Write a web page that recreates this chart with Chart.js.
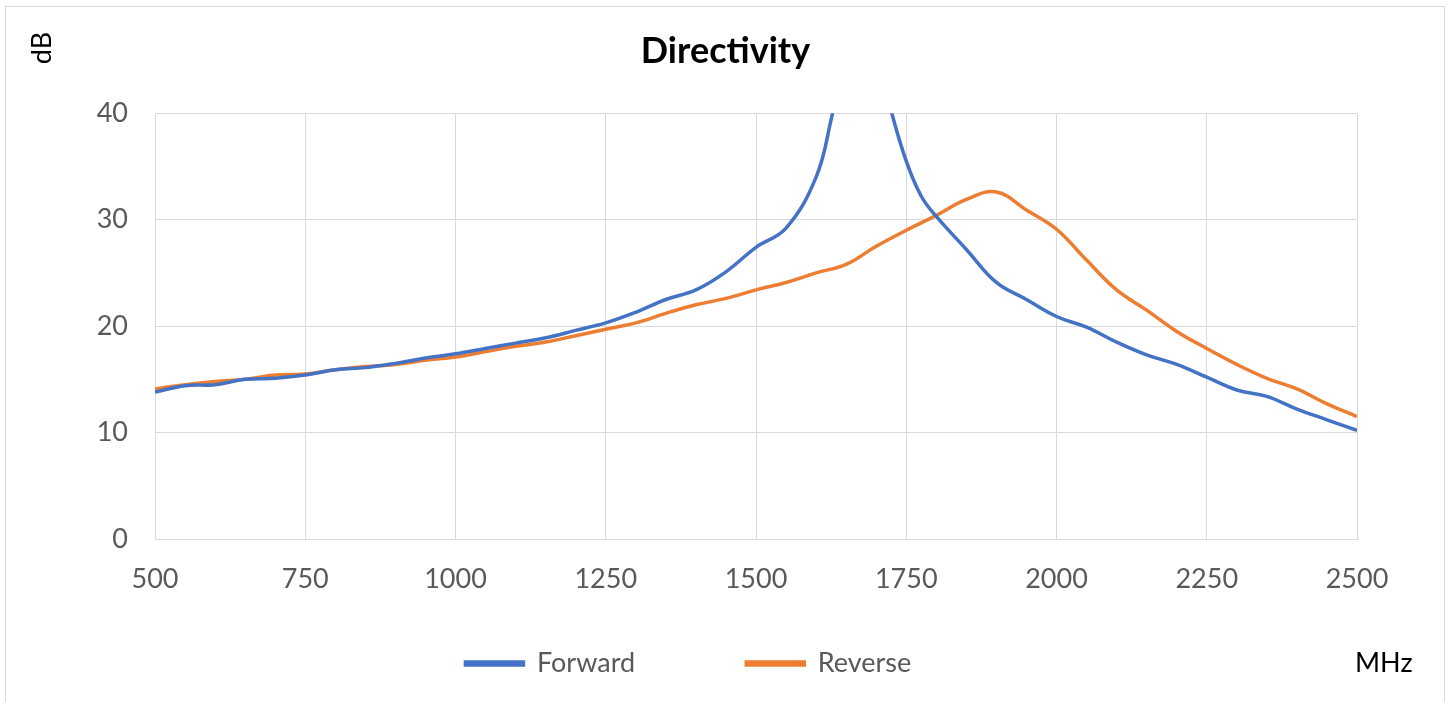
<!DOCTYPE html>
<html>
<head>
<meta charset="utf-8">
<script src="https://cdn.jsdelivr.net/npm/chart.js@4.4.1/dist/chart.umd.min.js"></script>
<style>
  html, body { margin: 0; padding: 0; background: #fff; }
  #wrap { width: 1451px; height: 702px; position: relative; }
</style>
</head>
<body>
<div id="wrap"><canvas id="directivity"></canvas></div>
<script>
// frequencies (MHz) and directivity (dB)
var forwardFreq = [500, 550, 600, 650, 700, 750, 800, 850, 900, 950, 1000, 1050, 1100, 1150, 1200, 1250, 1300, 1350, 1400, 1450, 1500, 1550, 1600, 1625, 1650, 1675, 1700, 1725, 1750, 1775, 1800, 1850, 1900, 1950, 2000, 2050, 2100, 2150, 2200, 2250, 2300, 2350, 2400, 2450, 2500];
var forwardDb = [13.8, 14.4, 14.5, 15.0, 15.1, 15.4, 15.9, 16.1, 16.5, 17.0, 17.4, 17.9, 18.4, 18.9, 19.6, 20.3, 21.3, 22.5, 23.4, 25.1, 27.4, 29.2, 34.0, 39.4, 46.0, 49.0, 46.0, 40.2, 35.5, 32.2, 30.3, 27.2, 24.1, 22.5, 20.9, 19.9, 18.5, 17.3, 16.4, 15.2, 14.0, 13.4, 12.2, 11.2, 10.2];

var reverseFreq = [500, 550, 600, 650, 700, 750, 800, 850, 900, 950, 1000, 1050, 1100, 1150, 1200, 1250, 1300, 1350, 1400, 1450, 1500, 1550, 1600, 1650, 1700, 1750, 1800, 1850, 1900, 1950, 2000, 2050, 2100, 2150, 2200, 2250, 2300, 2350, 2400, 2450, 2500];
var reverseDb = [14.1, 14.5, 14.8, 15.0, 15.4, 15.5, 15.9, 16.2, 16.4, 16.8, 17.1, 17.6, 18.1, 18.5, 19.1, 19.7, 20.3, 21.2, 22.0, 22.6, 23.4, 24.1, 25.0, 25.8, 27.5, 29.0, 30.4, 31.9, 32.6, 30.9, 29.1, 26.2, 23.4, 21.5, 19.5, 17.9, 16.4, 15.1, 14.1, 12.7, 11.5];

var xTicks = [500, 750, 1000, 1250, 1500, 1750, 2000, 2250, 2500];
var yTicks = [0, 10, 20, 30, 40];

function toPoints(xs, ys) {
  return xs.map(function(x, i) { return {x: x, y: ys[i]}; });
}

var FONT = "Lato, 'DejaVu Sans', sans-serif";

// frame, axis unit labels
var extrasPlugin = {
  id: 'extras',
  afterDraw: function(chart) {
    var ctx = chart.ctx;
    ctx.save();
    ctx.strokeStyle = '#d9d9d9';
    ctx.lineWidth = 1;
    ctx.strokeRect(5.5, 6.5, 1439, 700);

    ctx.fillStyle = '#000';
    ctx.font = '27px ' + FONT;
    ctx.textAlign = 'center';
    ctx.textBaseline = 'middle';
    ctx.translate(42, 48);
    ctx.rotate(-Math.PI / 2);
    ctx.fillText('dB', 0, 0);
    ctx.restore();

    ctx.save();
    ctx.fillStyle = '#000';
    ctx.font = '27px ' + FONT;
    ctx.textAlign = 'left';
    ctx.textBaseline = 'middle';
    ctx.fillText('MHz', 1355, 663);
    ctx.restore();
  }
};

var ctx = document.getElementById('directivity');
var chart = new Chart(ctx, {
  type: 'line',
  data: {
    datasets: [{
      label: 'Forward',
      data: toPoints(forwardFreq, forwardDb),
      borderColor: '#4472C4',
      backgroundColor: '#4472C4',
      borderWidth: 3.5,
      pointRadius: 0,
      tension: 0.4,
      fill: false
    }, {
      label: 'Reverse',
      data: toPoints(reverseFreq, reverseDb),
      borderColor: '#ED7D31',
      backgroundColor: '#ED7D31',
      borderWidth: 3.5,
      pointRadius: 0,
      tension: 0.4,
      fill: false
    }]
  },
  options: {
    responsive: true,
    maintainAspectRatio: false,
    animation: false,
    layout: { padding: { top: 6, left: 0, right: 0, bottom: 15 } },
    scales: {
      x: {
        type: 'linear',
        min: 500,
        max: 2500,
        afterBuildTicks: function(axis) {
          axis.ticks = xTicks.map(function(v) { return {value: v}; });
        },
        afterFit: function(axis) { axis.height = 101; },
        grid: { color: '#d9d9d9', lineWidth: 1, drawTicks: false },
        border: { color: '#d9d9d9' },
        ticks: {
          color: '#595959',
          font: { family: FONT, size: 27 },
          padding: 24,
          maxRotation: 0,
          callback: function(v) { return String(v); }
        }
      },
      y: {
        min: 0,
        max: 40,
        afterBuildTicks: function(axis) {
          axis.ticks = yTicks.map(function(v) { return {value: v}; });
        },
        afterFit: function(axis) { axis.width = 155; },
        grid: { color: '#d9d9d9', lineWidth: 1, drawTicks: false },
        border: { color: '#d9d9d9' },
        ticks: { color: '#595959', font: { family: FONT, size: 27 }, padding: 27 }
      },
      spacer: {
        position: 'right',
        min: 0,
        max: 1,
        afterFit: function(axis) { axis.width = 94; },
        grid: { display: false },
        border: { display: false },
        ticks: { display: false }
      }
    },
    plugins: {
      title: {
        display: true,
        text: 'Directivity',
        color: '#000',
        font: { family: FONT, size: 36, weight: 'bold' },
        padding: { top: 24, bottom: 40 }
      },
      legend: {
        position: 'bottom',
        labels: {
          color: '#595959',
          font: { family: FONT, size: 27 },
          boxWidth: 58,
          boxHeight: 3,
          padding: 10,
          generateLabels: function(chart) {
            var items = Chart.defaults.plugins.legend.labels.generateLabels(chart);
            items[0].text = 'Forward\u2003\u2003\u2003\u2003\u2003';
            items[1].text = 'Reverse\u2003\u2003\u2003\u2002';
            return items;
          }
        }
      },
      tooltip: { enabled: false }
    }
  },
  plugins: [extrasPlugin]
});
</script>
</body>
</html>
